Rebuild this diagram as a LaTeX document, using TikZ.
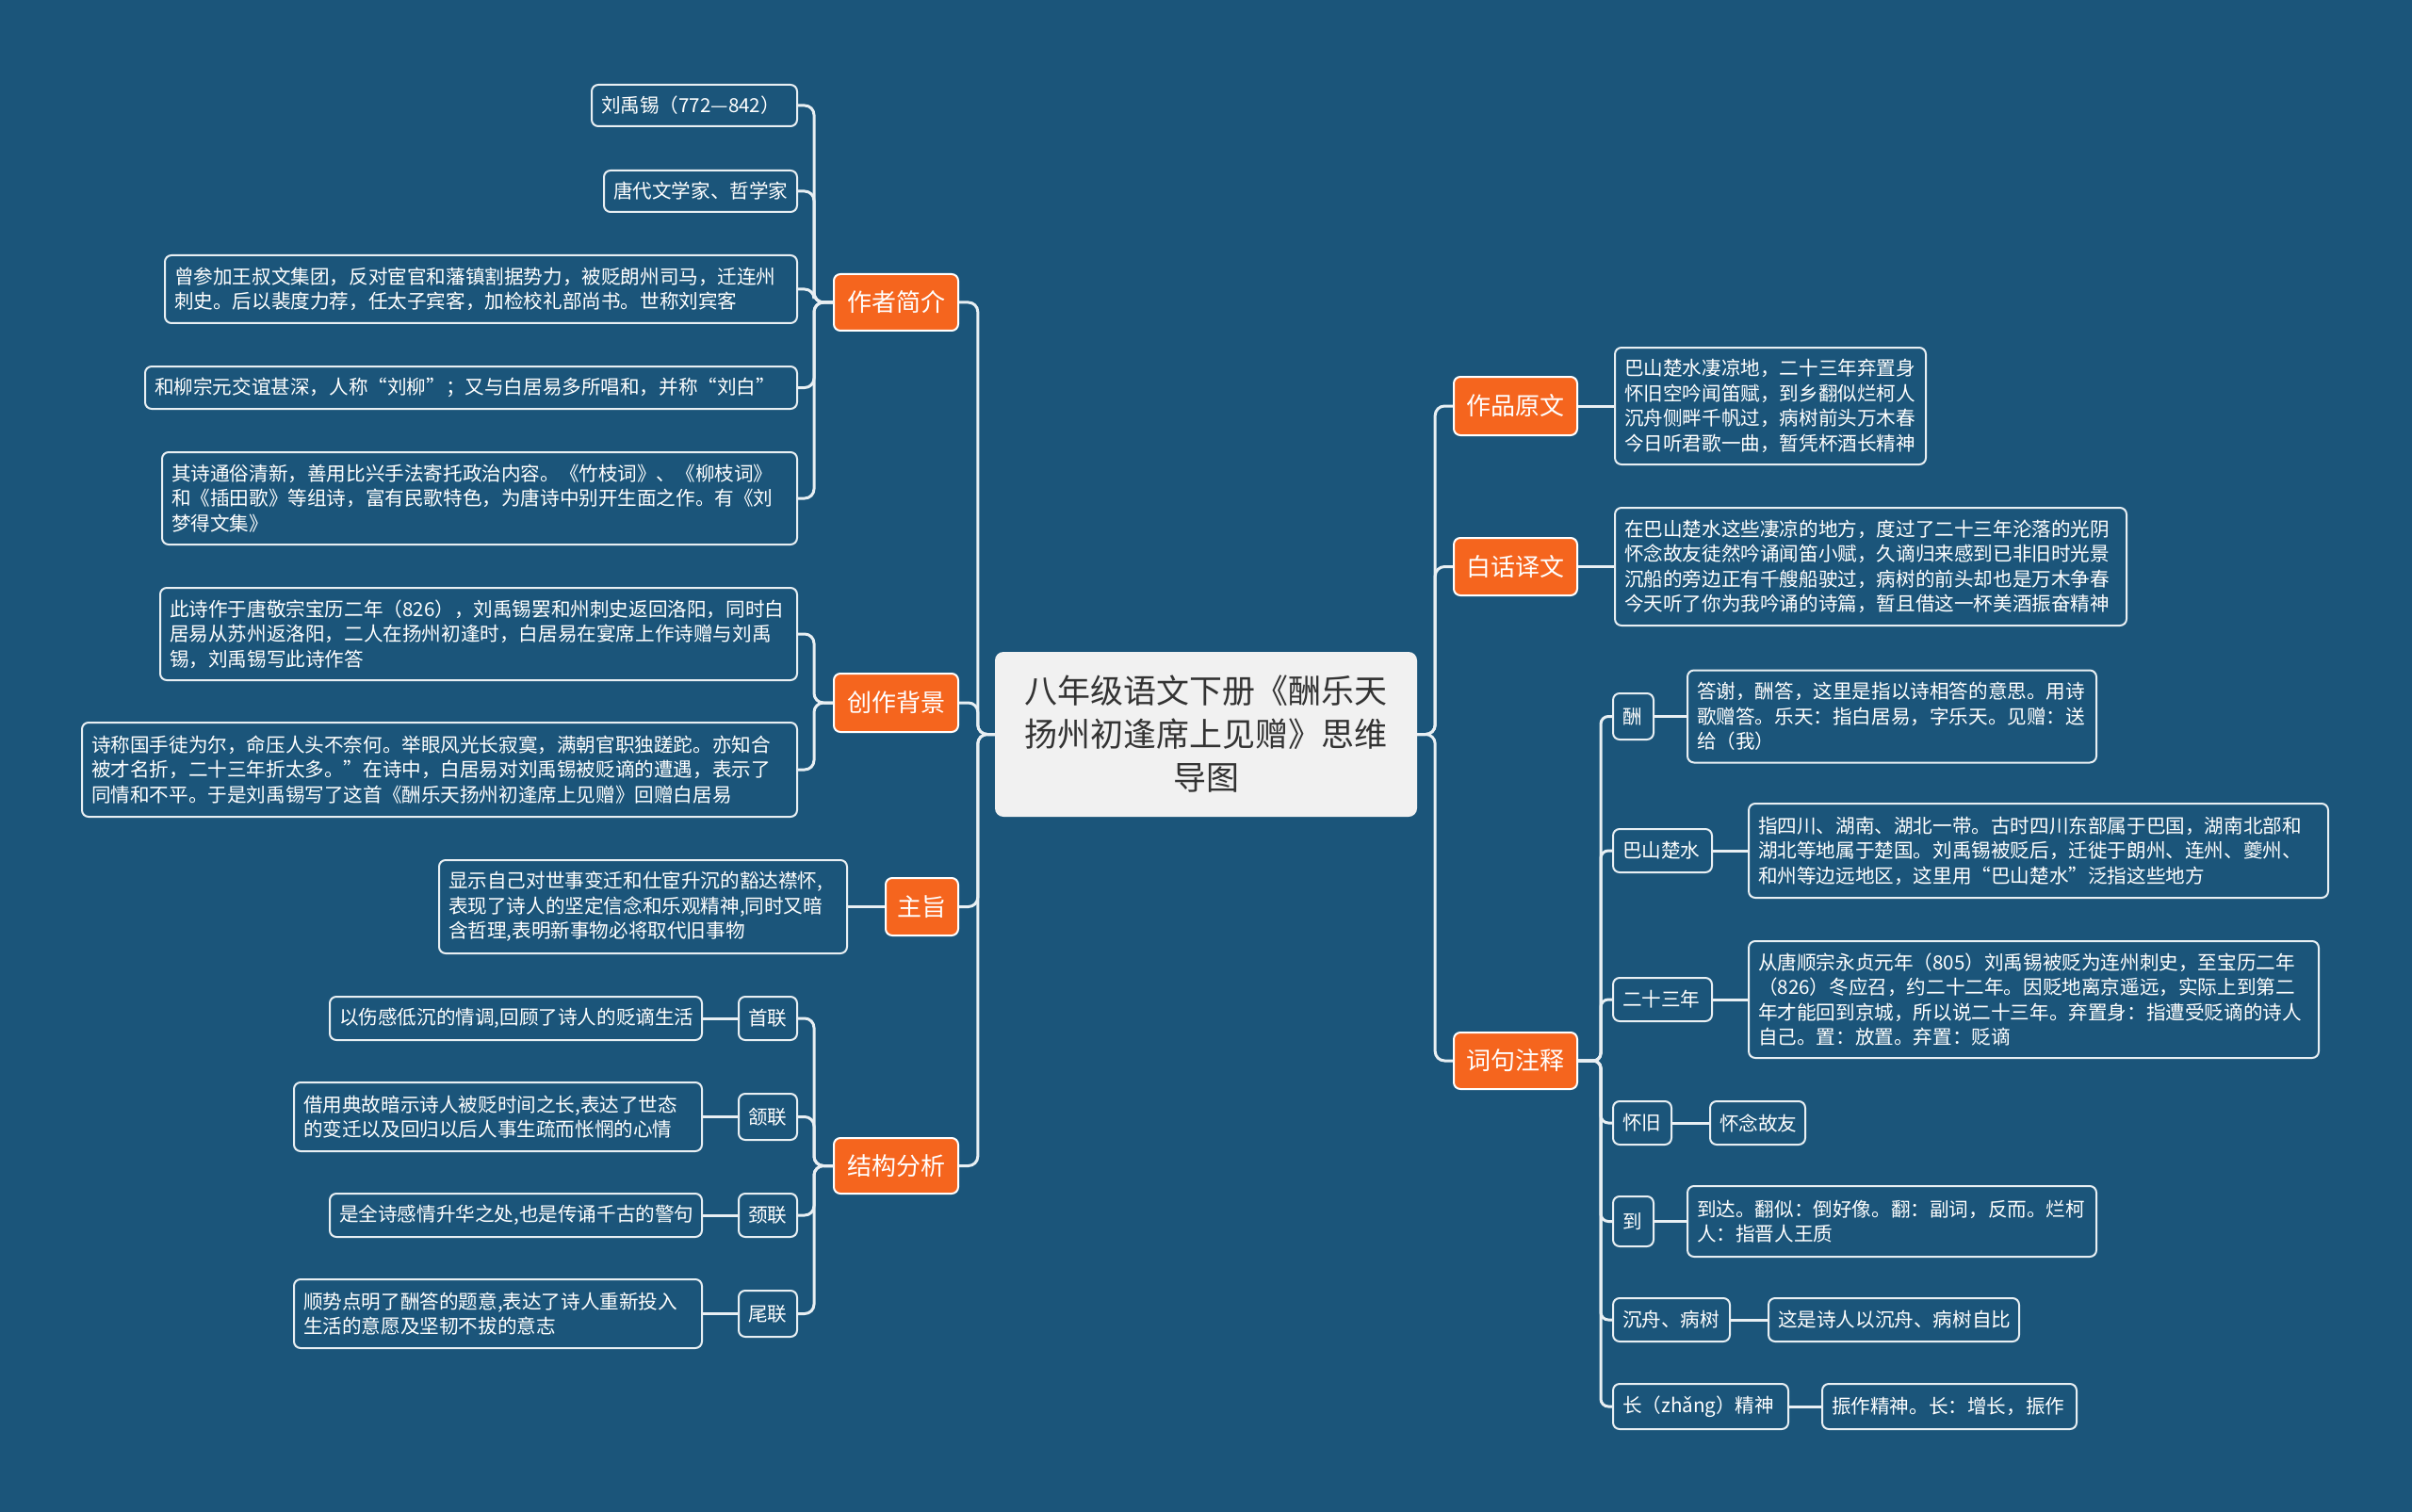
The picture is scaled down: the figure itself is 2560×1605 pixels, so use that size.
\documentclass[tikz,border=0pt]{standalone}
\usepackage{fontspec}
\newfontfamily\cjk{Noto Sans CJK SC}
\definecolor{bgc}{HTML}{1B557A}
\definecolor{orng}{HTML}{F5651E}
\definecolor{linec}{HTML}{E8EFF3}
\definecolor{ctrfill}{HTML}{F1F1F1}
\definecolor{ctrtext}{HTML}{333333}
\begin{document}
\begin{tikzpicture}[x=1pt,y=-1pt,
 leaf/.style={draw=linec, line width=2pt, rounded corners=7pt, fill=bgc, text=white,
   font=\cjk\fontsize{20.6}{26.5}\selectfont, align=left, inner xsep=10pt, inner ysep=0pt},
 topic/.style={draw=white, line width=2pt, rounded corners=7pt, fill=orng, text=white,
   font=\cjk\fontsize{26}{32}\selectfont, inner sep=0pt, align=center},
 root/.style={fill=ctrfill, rounded corners=9pt, text=ctrtext,
   font=\cjk\fontsize{35}{46}\selectfont, align=center, inner sep=0pt},
 conn/.style={draw=linec, line width=3pt, rounded corners=10pt},
]
\useasboundingbox (0,0) rectangle (2560,1605);
\fill[bgc] (0,0) rectangle (2560,1605);

% root
\node[root, minimum width=448, minimum height=175] (root) at (1280,779.5)
 {八年级语文下册《酬乐天\\扬州初逢席上见赠》思维\\导图};

% left topics
\node[topic, minimum width=132, minimum height=60] (zz) at (951,321) {作者简介};
\node[topic, minimum width=132, minimum height=62] (cz) at (951,746) {创作背景};
\node[topic, minimum width=77, minimum height=61] (zhu) at (978.5,962.5) {主旨};
\node[topic, minimum width=132, minimum height=59] (jg) at (951,1237.5) {结构分析};

% right topics
\node[topic, minimum width=131, minimum height=62] (yw) at (1608.5,431) {作品原文};
\node[topic, minimum width=131, minimum height=61] (bh) at (1608.5,601.5) {白话译文};
\node[topic, minimum width=131, minimum height=60] (cj) at (1608.5,1126) {词句注释};

% 作者简介 children
\node[leaf, anchor=east, text width=198, minimum height=44] (zz1) at (847,112) {刘禹锡（772—842）};
\node[leaf, anchor=east, text width=185, minimum height=44] (zz2) at (847,203) {唐代文学家、哲学家};
\node[leaf, anchor=east, text width=651, minimum height=72] (zz3) at (847,307)
 {曾参加王叔文集团，反对宦官和藩镇割据势力，被贬朗州司马，迁连州\\刺史。后以裴度力荐，任太子宾客，加检校礼部尚书。世称刘宾客};
\node[leaf, anchor=east, text width=672, minimum height=45] (zz4) at (847,411.5)
 {和柳宗元交谊甚深，人称“刘柳”；又与白居易多所唱和，并称“刘白”};
\node[leaf, anchor=east, text width=654, minimum height=98] (zz5) at (847,529)
 {其诗通俗清新，善用比兴手法寄托政治内容。《竹枝词》、《柳枝词》\\和《插田歌》等组诗，富有民歌特色，为唐诗中别开生面之作。有《刘\\梦得文集》};

% 创作背景 children
\node[leaf, anchor=east, text width=656, minimum height=98] (cz1) at (847,673)
 {此诗作于唐敬宗宝历二年（826），刘禹锡罢和州刺史返回洛阳，同时白\\居易从苏州返洛阳，二人在扬州初逢时，白居易在宴席上作诗赠与刘禹\\锡，刘禹锡写此诗作答};
\node[leaf, anchor=east, text width=739, minimum height=100] (cz2) at (847,817)
 {诗称国手徒为尔，命压人头不奈何。举眼风光长寂寞，满朝官职独蹉跎。亦知合\\被才名折，二十三年折太多。”在诗中，白居易对刘禹锡被贬谪的遭遇，表示了\\同情和不平。于是刘禹锡写了这首《酬乐天扬州初逢席上见赠》回赠白居易};

% 主旨 child
\node[leaf, anchor=east, text width=413, minimum height=99] (zhu1) at (900,962.5)
 {显示自己对世事变迁和仕宦升沉的豁达襟怀,\\表现了诗人的坚定信念和乐观精神,同时又暗\\含哲理,表明新事物必将取代旧事物};

% 结构分析 labels
\node[leaf, anchor=east, text width=42, minimum height=46] (jg1) at (847,1081) {首联};
\node[leaf, anchor=east, text width=42, minimum height=49] (jg2) at (847,1185.5) {颔联};
\node[leaf, anchor=east, text width=42, minimum height=46] (jg3) at (847,1290) {颈联};
\node[leaf, anchor=east, text width=42, minimum height=49] (jg4) at (847,1394.5) {尾联};
% 结构分析 texts
\node[leaf, anchor=east, text width=375, minimum height=46] (jgt1) at (746,1081)
 {以伤感低沉的情调,回顾了诗人的贬谪生活};
\node[leaf, anchor=east, text width=413, minimum height=73] (jgt2) at (746,1185.5)
 {借用典故暗示诗人被贬时间之长,表达了世态\\的变迁以及回归以后人事生疏而怅惘的心情};
\node[leaf, anchor=east, text width=375, minimum height=46] (jgt3) at (746,1290)
 {是全诗感情升华之处,也是传诵千古的警句};
\node[leaf, anchor=east, text width=413, minimum height=73] (jgt4) at (746,1394.5)
 {顺势点明了酬答的题意,表达了诗人重新投入\\生活的意愿及坚韧不拔的意志};

% 作品原文 / 白话译文 children
\node[leaf, anchor=west, text width=310, minimum height=124] (yw1) at (1713,431)
 {巴山楚水凄凉地，二十三年弃置身\\怀旧空吟闻笛赋，到乡翻似烂柯人\\沉舟侧畔千帆过，病树前头万木春\\今日听君歌一曲，暂凭杯酒长精神};
\node[leaf, anchor=west, text width=523, minimum height=125] (bh1) at (1713,601.5)
 {在巴山楚水这些凄凉的地方，度过了二十三年沦落的光阴\\怀念故友徒然吟诵闻笛小赋，久谪归来感到已非旧时光景\\沉船的旁边正有千艘船驶过，病树的前头却也是万木争春\\今天听了你为我吟诵的诗篇，暂且借这一杯美酒振奋精神};

% 词句注释 labels
\node[leaf, anchor=west, text width=23, minimum height=49] (cjL1) at (1711,760.5) {酬};
\node[leaf, anchor=west, text width=85, minimum height=46] (cjL2) at (1711,903) {巴山楚水};
\node[leaf, anchor=west, text width=85, minimum height=46] (cjL3) at (1711,1061) {二十三年};
\node[leaf, anchor=west, text width=42, minimum height=46] (cjL4) at (1711,1192) {怀旧};
\node[leaf, anchor=west, text width=23, minimum height=53] (cjL5) at (1711,1296.5) {到};
\node[leaf, anchor=west, text width=104, minimum height=46] (cjL6) at (1711,1401) {沉舟、病树};
\node[leaf, anchor=west, text width=166, minimum height=48] (cjL7) at (1711,1493) {长（zhǎng）精神};
% 词句注释 texts
\node[leaf, anchor=west, text width=414, minimum height=98] (cjT1) at (1790,760.5)
 {答谢，酬答，这里是指以诗相答的意思。用诗\\歌赠答。乐天：指白居易，字乐天。见赠：送\\给（我）};
\node[leaf, anchor=west, text width=595, minimum height=100] (cjT2) at (1855,903)
 {指四川、湖南、湖北一带。古时四川东部属于巴国，湖南北部和\\湖北等地属于楚国。刘禹锡被贬后，迁徙于朗州、连州、夔州、\\和州等边远地区，这里用“巴山楚水”泛指这些地方};
\node[leaf, anchor=west, text width=585, minimum height=124] (cjT3) at (1855,1061)
 {从唐顺宗永贞元年（805）刘禹锡被贬为连州刺史，至宝历二年\\（826）冬应召，约二十二年。因贬地离京遥远，实际上到第二\\年才能回到京城，所以说二十三年。弃置身：指遭受贬谪的诗人\\自己。置：放置。弃置：贬谪};
\node[leaf, anchor=west, text width=81, minimum height=46] (cjT4) at (1814,1192) {怀念故友};
\node[leaf, anchor=west, text width=414, minimum height=75] (cjT5) at (1790,1296.5)
 {到达。翻似：倒好像。翻：副词，反而。烂柯\\人：指晋人王质};
\node[leaf, anchor=west, text width=246, minimum height=46] (cjT6) at (1876,1401) {这是诗人以沉舟、病树自比};
\node[leaf, anchor=west, text width=250, minimum height=48] (cjT7) at (1933,1493) {振作精神。长：增长，振作};

% ---- connectors ----
% main trunks
\foreach \t in {zz,cz,zhu,jg} \draw[conn] (root.west) -- ++(-18,0) |- (\t.east);
\foreach \t in {yw,bh,cj} \draw[conn] (root.east) -- ++(19,0) |- (\t.west);
% 作者简介
\foreach \t in {zz1,zz2,zz3,zz4,zz5} \draw[conn] (zz.west) -- ++(-20,0) |- (\t.east);
% 创作背景
\foreach \t in {cz1,cz2} \draw[conn] (cz.west) -- ++(-20,0) |- (\t.east);
% 主旨
\draw[conn] (zhu.west) -- (zhu.west -| zhu1.east);
% 结构分析
\foreach \t in {jg1,jg2,jg3,jg4} \draw[conn] (jg.west) -- ++(-20,0) |- (\t.east);
\draw[conn] (jg1.west) -- (jg1.west -| jgt1.east);
\draw[conn] (jg2.west) -- (jg2.west -| jgt2.east);
\draw[conn] (jg3.west) -- (jg3.west -| jgt3.east);
\draw[conn] (jg4.west) -- (jg4.west -| jgt4.east);
% right
\draw[conn] (yw.east) -- (yw.east -| yw1.west);
\draw[conn] (bh.east) -- (bh.east -| bh1.west);
\foreach \t in {cjL1,cjL2,cjL3,cjL4,cjL5,cjL6,cjL7} \draw[conn, rounded corners=8pt] (cj.east) -- ++(24,0) |- (\t.west);
\draw[conn] (cjL1.east) -- (cjL1.east -| cjT1.west);
\draw[conn] (cjL2.east) -- (cjL2.east -| cjT2.west);
\draw[conn] (cjL3.east) -- (cjL3.east -| cjT3.west);
\draw[conn] (cjL4.east) -- (cjL4.east -| cjT4.west);
\draw[conn] (cjL5.east) -- (cjL5.east -| cjT5.west);
\draw[conn] (cjL6.east) -- (cjL6.east -| cjT6.west);
\draw[conn] (cjL7.east) -- (cjL7.east -| cjT7.west);
\end{tikzpicture}
\end{document}
